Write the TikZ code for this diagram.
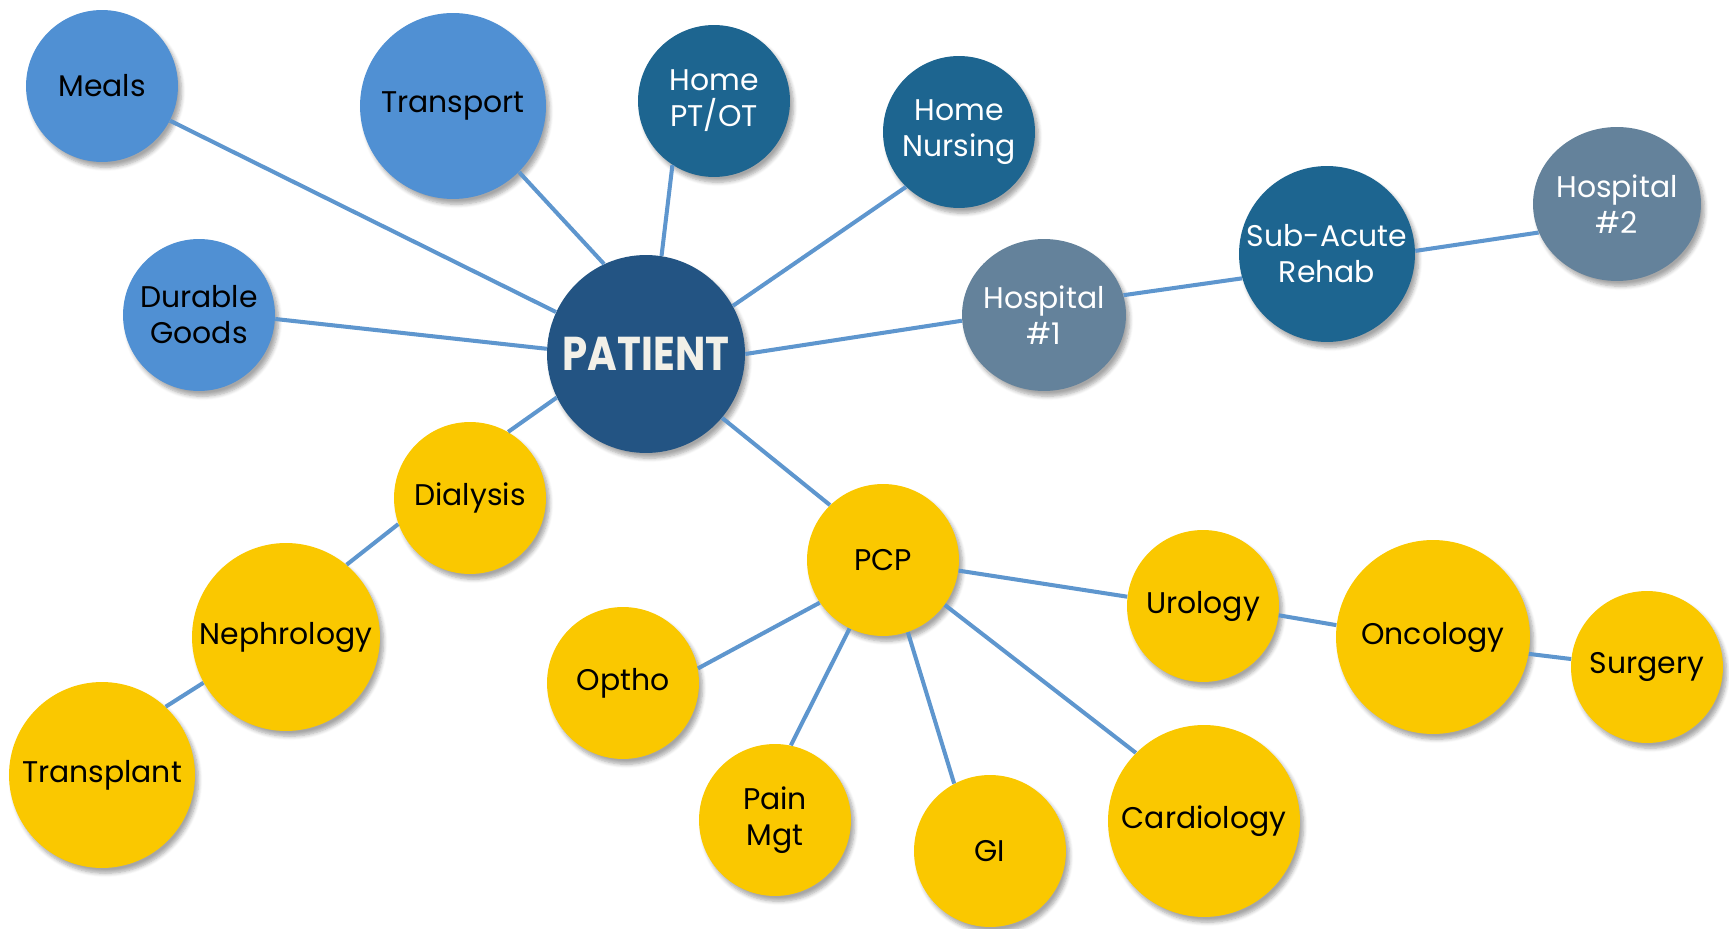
\documentclass[tikz,border=0pt]{standalone}
\usepackage{graphicx}
\usepackage{fontspec}
\setmainfont{Poppins}
\usetikzlibrary{shapes.geometric,shadows.blur}
\definecolor{liteblue}{HTML}{5090D3}
\definecolor{tealblue}{HTML}{1D6590}
\definecolor{navyblue}{HTML}{235483}
\definecolor{slateblue}{HTML}{64829B}
\definecolor{gold}{HTML}{FAC800}
\definecolor{linkblue}{HTML}{5E96CE}
\definecolor{offwhite}{HTML}{F2F0E8}
\tikzset{
  bub/.style={circle, inner sep=0pt, align=center,
    font=\fontsize{17}{20.5}\selectfont,
    blur shadow={shadow xshift=2pt, shadow yshift=-3pt, shadow blur steps=6, shadow opacity=35}},
  lite/.style={bub, fill=liteblue, text=black},
  deep/.style={bub, fill=tealblue, text=white},
  hosp/.style={bub, ellipse, inner xsep=-10pt, fill=slateblue, text=white},
  care/.style={bub, fill=gold, text=black},
  link/.style={draw=linkblue, line width=2.3pt}
}
\begin{document}
\begin{tikzpicture}[x=0.02cm, y=-0.02cm]
    \useasboundingbox (0,0) rectangle (1729,929);
    % outer ring
    \node[lite, minimum size=3.04cm] (meals) at (102,86) {Meals};
    \node[lite, minimum size=3.72cm] (transport) at (453,106) {Transport};
    \node[deep, minimum size=3.04cm] (hptot) at (714,101) {Home\\PT/OT};
    \node[deep, minimum size=3.04cm] (hnurse) at (959,132) {Home\\Nursing};
    \node[lite, minimum size=3.04cm] (durable) at (199,315) {Durable\\Goods};
    \node[bub, fill=navyblue, text=offwhite, minimum size=3.96cm,
          font=\fontsize{27}{30}\bfseries] (patient) at (646,354) {\scalebox{0.85}[1]{PATIENT}};
    % hospital chain
    \node[hosp, minimum width=3.28cm, minimum height=3.04cm] (hosp1) at (1044,315) {Hospital\\\#1};
    \node[deep, minimum size=3.52cm] (subacute) at (1327,254) {Sub-Acute\\Rehab};
    \node[hosp, minimum width=3.36cm, minimum height=3.08cm] (hosp2) at (1617,204) {Hospital\\\#2};
    % kidney chain
    \node[care, minimum size=3.04cm] (dialysis) at (470,498) {Dialysis};
    \node[care, minimum size=3.76cm] (nephro) at (286,637) {Nephrology};
    \node[care, minimum size=3.72cm] (transplant) at (102,775) {Transplant};
    % primary care
    \node[care, minimum size=3.04cm] (pcp) at (883,560) {PCP};
    \node[care, minimum size=3.04cm] (optho) at (623,683) {Optho};
    \node[care, minimum size=3.04cm] (painmgt) at (775,820) {Pain\\Mgt};
    \node[care, minimum size=3.04cm] (gi) at (990,851) {GI};
    \node[care, minimum size=3.84cm] (cardio) at (1204,821) {Cardiology};
    \node[care, minimum size=3.04cm] (urology) at (1203,606) {Urology};
    \node[care, minimum size=3.88cm] (oncology) at (1433,637) {Oncology};
    \node[care, minimum size=3.04cm] (surgery) at (1647,667) {Surgery};

    \draw[link] (meals.-27) -- (patient.155);
    \draw[link] (transport.-45) -- (patient.115);
    \draw[link] (hptot.237) -- (patient.81);
    \draw[link] (hnurse.226) -- (patient.29);
    \draw[link] (durable.-3) -- (patient.177);
    \draw[link] (patient.0) -- (hosp1.184);
    \draw[link] (hosp1.14) -- (subacute.196);
    \draw[link] (subacute.2) -- (hosp2.200);
    \draw[link] (patient.206) -- (dialysis.60);
    \draw[link] (dialysis.200) -- (nephro.50);
    \draw[link] (nephro.209) -- (transplant.47);
    \draw[link] (patient.-40) -- (pcp.134);
    \draw[link] (pcp.214) -- (optho.11);
    \draw[link] (pcp.244) -- (painmgt.78);
    \draw[link] (pcp.-71) -- (gi.118);
    \draw[link] (pcp.-36) -- (cardio.135);
    \draw[link] (pcp.-8) -- (urology.173);
    \draw[link] (urology.-7) -- (oncology.173);
    \draw[link] (oncology.-10) -- (surgery.174);
\end{tikzpicture}
\end{document}
